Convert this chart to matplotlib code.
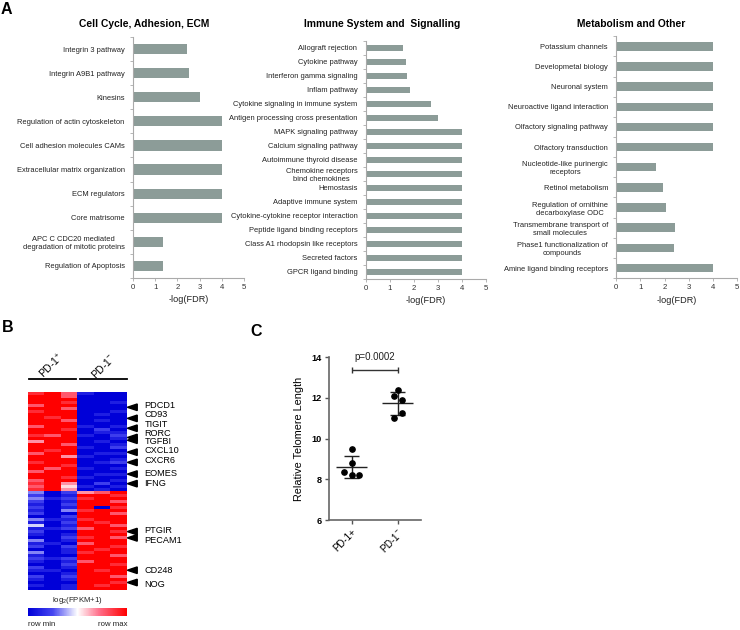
import matplotlib
matplotlib.use('Agg')
import matplotlib.pyplot as plt
import numpy as np
from matplotlib.colors import LinearSegmentedColormap
from matplotlib.patches import Polygon

plt.rcParams['font.family'] = ['Liberation Sans', 'DejaVu Sans']
plt.rcParams['mathtext.fontset'] = 'custom'
plt.rcParams['mathtext.rm'] = 'Liberation Sans'
plt.rcParams['mathtext.it'] = 'Liberation Sans:italic'
plt.rcParams['mathtext.bf'] = 'Liberation Sans:bold'

# PANEL A - pathway enrichment
cc_labels = ["Integrin 3 pathway", "Integrin A9B1 pathway", "Kinesins",
             "Regulation of actin cytoskeleton", "Cell adhesion molecules CAMs",
             "Extracellular matrix organization", "ECM regulators", "Core matrisome",
             "APC C CDC20 mediated\ndegradation of mitotic proteins",
             "Regulation of Apoptosis"]
cc_values = [2.41, 2.53, 3.0, 4.0, 4.0, 4.0, 4.0, 4.0, 1.33, 1.36]

imm_labels = ["Allograft rejection", "Cytokine pathway", "Interferon gamma signaling",
              "Inflam pathway", "Cytokine signaling in immune system",
              "Antigen processing cross presentation", "MAPK signaling pathway",
              "Calcium signaling pathway", "Autoimmune thyroid disease",
              "Chemokine receptors\nbind chemokines", "Hemostasis", "Adaptive immune system",
              "Cytokine-cytokine receptor interaction", "Peptide ligand binding receptors",
              "Class A1 rhodopsin like receptors", "Secreted factors", "GPCR ligand binding"]
imm_values = [1.57, 1.67, 1.74, 1.86, 2.71, 3.0, 4.0, 4.0, 4.0, 4.0, 4.0, 4.0, 4.0,
              4.0, 4.0, 4.0, 4.0]

met_labels = ["Potassium channels", "Developmetal biology", "Neuronal system",
              "Neuroactive ligand interaction", "Olfactory signaling pathway",
              "Olfactory transduction", "Nucleotide-like purinergic\nreceptors",
              "Retinol metabolism", "Regulation of ornithine\ndecarboxylase ODC",
              "Transmembrane transport of\nsmall molecules",
              "Phase1 functionalization of\ncompounds", "Amine ligand binding receptors"]
met_values = [4.0, 4.0, 4.0, 4.0, 4.0, 4.0, 1.64, 1.95, 2.06, 2.42, 2.40, 4.0]

# PANEL B - heatmap (0 = row min, 9 = row max), columns: 3x PD-1+, 3x PD-1-
heat_up = [
    [8, 9, 7, 1, 0, 0], [9, 9, 7, 0, 0, 0], [9, 9, 9, 0, 0, 0], [9, 9, 8, 0, 0, 1],
    [7, 9, 9, 0, 0, 0], [9, 9, 7, 0, 0, 0], [8, 9, 9, 0, 0, 1], [9, 9, 9, 0, 1, 0],
    [9, 8, 9, 0, 0, 0], [9, 9, 7, 0, 1, 0], [9, 9, 9, 0, 0, 0], [7, 9, 9, 1, 0, 1],
    [9, 9, 8, 0, 2, 0], [9, 9, 9, 0, 1, 1], [8, 7, 9, 1, 0, 2], [9, 9, 9, 0, 0, 1],
    [6, 9, 9, 0, 1, 0], [9, 9, 7, 0, 0, 1], [9, 9, 9, 1, 0, 2], [9, 8, 9, 0, 0, 0],
    [7, 9, 9, 0, 1, 1], [9, 9, 6, 1, 0, 0], [9, 9, 9, 0, 0, 1], [8, 9, 9, 0, 1, 2],
    [9, 9, 8, 0, 0, 0], [9, 7, 9, 1, 0, 1], [7, 9, 9, 0, 0, 0], [9, 9, 9, 0, 1, 1],
    [9, 9, 8, 1, 0, 0], [7, 9, 9, 0, 0, 1], [8, 9, 6, 0, 2, 0], [7, 9, 5, 1, 0, 1],
    [8, 9, 6, 0, 1, 0]]
heat_down = [
    [3, 0, 2, 6, 7, 9], [2, 0, 1, 9, 9, 8], [3, 1, 2, 8, 9, 9], [2, 0, 1, 9, 9, 7],
    [1, 0, 2, 9, 9, 9], [2, 0, 1, 9, 0, 8], [1, 0, 3, 8, 9, 9], [2, 0, 0, 9, 9, 7],
    [0, 0, 2, 9, 9, 9], [3, 1, 1, 8, 9, 9], [1, 0, 2, 9, 8, 9], [4, 0, 1, 9, 9, 7],
    [1, 1, 2, 7, 9, 9], [2, 0, 0, 9, 9, 8], [1, 0, 1, 9, 9, 9], [0, 0, 2, 8, 9, 7],
    [3, 0, 1, 9, 9, 9], [1, 1, 0, 7, 9, 9], [2, 0, 2, 9, 9, 8], [0, 0, 1, 9, 8, 9],
    [3, 0, 1, 8, 9, 9], [1, 0, 0, 9, 9, 7], [2, 1, 2, 9, 9, 9], [1, 0, 1, 7, 9, 9],
    [0, 0, 2, 9, 9, 8], [2, 0, 1, 9, 9, 9], [1, 1, 0, 9, 8, 9], [0, 0, 1, 9, 9, 9],
    [2, 0, 2, 9, 9, 7], [1, 0, 1, 9, 9, 9], [0, 0, 0, 9, 9, 8], [1, 0, 1, 9, 8, 9],
    [0, 0, 1, 9, 9, 9]]
gene_names = ["PDCD1", "CD93", "TIGIT", "RORC", "TGFBI", "CXCL10", "CXCR6", "EOMES",
              "IFNG", "PTGIR", "PECAM1", "CD248", "NOG"]
gene_rows = [4.5, 8.2, 11.5, 14.6, 15.5, 19.5, 22.9, 26.8, 30.0, 46.0, 48.1, 58.9, 63.0]
gene_text_rows = [4.0, 6.9, 10.2, 13.3, 15.9, 18.9, 22.2, 26.5, 29.8, 45.6, 48.9, 59.0, 63.7]

# PANEL C - telomere length
telo_groups = ["PD-1+", r"PD-1$^{-}$"]
telo_pos = [9.49, 8.79, 8.36, 8.21, 8.21]
telo_neg = [12.39, 12.08, 11.90, 11.28, 11.02]
jit_pos = [0.0, 0.0, -0.17, 0.0, 0.17]
jit_neg = [0.0, -0.07, 0.095, 0.095, -0.07]

W, H = 740, 630
BAR = '#8c9c98'
fig = plt.figure(figsize=(7.4, 6.3), dpi=100)


def px_axes(x0, y0, x1, y1):
    return fig.add_axes([x0 / W, 1 - y1 / H, (x1 - x0) / W, (y1 - y0) / H])


def ftext(x, y, s, **kw):
    fig.text(x / W, 1 - y / H, s, **kw)


def bar_panel(box, labels, values, title, title_x):
    ax = px_axes(*box)
    y = np.arange(len(labels))
    ax.barh(y, values, height=0.42, color=BAR)
    ax.set_ylim(len(labels) - 0.5, -0.5)
    ax.set_xlim(0, 5)
    ax.set_xticks(range(6))
    ax.set_yticks(y)
    ax.set_yticklabels(labels, fontsize=5.4, color='#222')
    for lab in ax.get_yticklabels():
        lab.set_multialignment('center')
    ax.set_yticks(np.arange(len(labels) + 1) - 0.5, minor=True)
    ax.tick_params(axis='y', which='major', length=0, pad=6)
    ax.tick_params(axis='y', which='minor', length=2, color='#aaa', width=0.6)
    ax.tick_params(axis='x', length=2.5, color='#aaa', width=0.6, labelsize=5.6,
                   pad=2, labelcolor='#333')
    for s in ['top', 'right']:
        ax.spines[s].set_visible(False)
    for s in ['left', 'bottom']:
        ax.spines[s].set_color('#aaa')
        ax.spines[s].set_linewidth(0.8)
    ax.set_xlabel('-log(FDR)', fontsize=6.6, labelpad=3, color='#222')
    ftext(title_x, 24, title, fontsize=7.4, fontweight='bold', ha='center', va='center')
    return ax


bar_panel((133, 37, 244, 278), cc_labels, cc_values, "Cell Cycle, Adhesion, ECM", 143.7)
bar_panel((365.7, 41, 485.7, 279), imm_labels, imm_values,
          "Immune System and  Signalling", 381.8)
bar_panel((616.3, 36.2, 737, 278.1), met_labels, met_values, "Metabolism and Other", 631.2)

# PANEL B
cmap = LinearSegmentedColormap.from_list(
    'bwr_m', [(0, '#0000d8'), (0.25, '#4646f0'), (0.5, '#ffffff'), (0.72, '#ff6f8a'),
              (1, '#ff0000')])
heat = np.array(heat_up + heat_down)
axh = px_axes(28, 392.3, 127, 590)
im = axh.imshow(heat, cmap=cmap, vmin=0, vmax=9, aspect='auto', interpolation='nearest')
axh.set_xlim(-0.5, 5.5)
axh.set_ylim(len(heat) - 0.5, -0.5)
axh.axis('off')
for r, tr, g in zip(gene_rows, gene_text_rows, gene_names):
    axh.add_patch(Polygon([[5.52, r], [6.12, r - 1.1], [6.12, r + 1.1]], closed=True,
                          color='black', clip_on=False))
    axh.text(6.55, tr, g, fontsize=6.6, va='center', ha='left')

fig.add_artist(plt.Line2D([29 / W, 76 / W], [1 - 379.3 / H] * 2, color='black', lw=1.3))
fig.add_artist(plt.Line2D([80 / W, 127 / W], [1 - 379.3 / H] * 2, color='black', lw=1.3))
ftext(52, 366, r'PD-1$^{+}$', fontsize=7.5, rotation=45, ha='center', va='center')
ftext(103, 366, r'PD-1$^{-}$', fontsize=7.5, rotation=45, ha='center', va='center')

axc = px_axes(28, 607.7, 127, 616)
cb = fig.colorbar(im, cax=axc, orientation='horizontal')
cb.set_ticks([])
cb.outline.set_visible(False)
ftext(77.5, 601, r'log$_2$(FPKM+1)', fontsize=5.6, ha='center', va='center', color='#222')
ftext(28, 625, 'row min', fontsize=5.6, ha='left', va='center', color='#222')
ftext(127, 625, 'row max', fontsize=5.6, ha='right', va='center', color='#222')

# PANEL C
ax = px_axes(328.5, 357.3, 420.7, 520)
for i, (vals, jit) in enumerate([(telo_pos, jit_pos), (telo_neg, jit_neg)]):
    vals = np.array(vals)
    m, sd = vals.mean(), vals.std(ddof=1)
    ax.plot(i + np.array(jit), vals, 'o', color='black', ms=3.8, zorder=3)
    ax.hlines(m, i - 0.33, i + 0.33, color='#222', lw=1)
    ax.vlines(i, m - sd, m + sd, color='#222', lw=1)
    ax.hlines([m - sd, m + sd], i - 0.17, i + 0.17, color='#222', lw=1)
ax.hlines(13.38, 0, 1, color='#333', lw=1)
ax.vlines([0, 1], 13.22, 13.54, color='#333', lw=1)
ax.text(0.5, 14.03, 'p=0.0002', fontsize=7, ha='center', va='center', color='#222')
ax.set_xlim(-0.5, 1.5)
ax.set_ylim(6, 14)
ax.set_yticks([6, 8, 10, 12, 14])
ax.set_xticks([0, 1])
ax.set_xticklabels(telo_groups, rotation=45, ha='right', rotation_mode='anchor', fontsize=7)
for lab in ax.get_yticklabels():
    lab.set_fontweight('bold')
ax.tick_params(axis='y', labelsize=6.6, length=3, width=1, color='#555', pad=2)
ax.tick_params(axis='x', length=3, width=1, color='#555', pad=2)
for s in ['top', 'right']:
    ax.spines[s].set_visible(False)
for s in ['left', 'bottom']:
    ax.spines[s].set_color('#666')
    ax.spines[s].set_linewidth(1.2)
ax.set_ylabel('Relative Telomere Length', fontsize=7.8, labelpad=5)

# panel letters
ftext(1, 9, 'A', fontsize=11.5, fontweight='bold', va='center')
ftext(2, 328, 'B', fontsize=11.5, fontweight='bold', va='center')
ftext(250, 332, 'C', fontsize=11.5, fontweight='bold', va='center')

fig.savefig('out.png', dpi=100)
